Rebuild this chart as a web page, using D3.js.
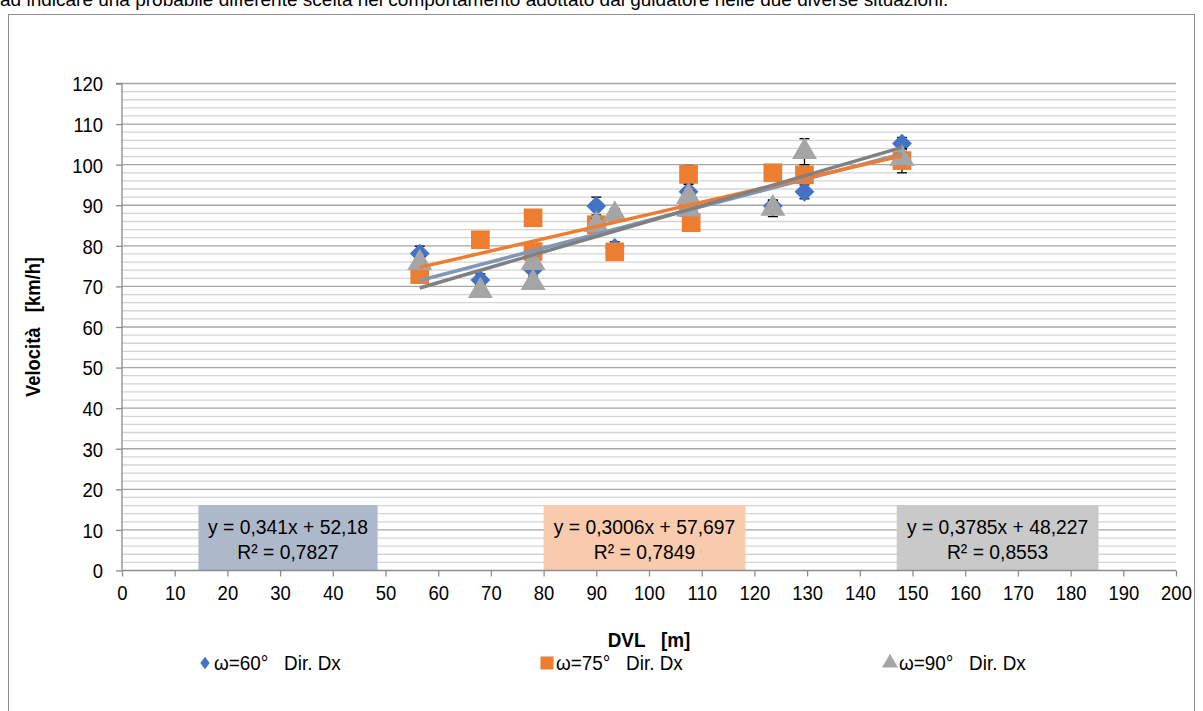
<!DOCTYPE html>
<html><head><meta charset="utf-8">
<script src="https://cdn.jsdelivr.net/npm/d3@7"></script>
<style>
html,body{margin:0;padding:0;background:#fff;}
svg{display:block;}
text{font-family:"Liberation Sans",Arial,sans-serif;white-space:pre;}
</style></head>
<body>
<svg id="c" width="1203" height="711"></svg>
<script>
const introText = "ad indicare una probabile differente scelta nel comportamento adottato dal guidatore nelle due diverse situazioni.";
const xTicks = [0,10,20,30,40,50,60,70,80,90,100,110,120,130,140,150,160,170,180,190,200];
const yTicks = [0,10,20,30,40,50,60,70,80,90,100,110,120];
const seriesNames = ["ω=60°   Dir. Dx","ω=75°   Dir. Dx","ω=90°   Dir. Dx"];
const seriesColors = ["#4472C4","#ED7D31","#A5A5A5"];
const trendColors = ["#8197B8","#ED7D31","#808080"];
const boxColors = ["#ADB9CA","#F8CBAD","#C9C9C9"];

const x60 = [56.5, 68, 78, 90, 93.5, 107.5, 123.5, 129.5, 148];
const y60 = [78.1, 71.6, 74.1, 89.8, 79.5, 93.3, 89.8, 93.3, 105.2];
const e60 = [1.8, 1.5, 1.6, 2.2, 1.5, 1.8, 1.5, 1.7, 1.5];

const x75 = [56.5, 68, 78, 78, 90, 93.5, 107.5, 107.5, 108, 123.5, 129.5, 148];
const y75 = [72.9, 81.5, 86.9, 78.6, 85.2, 78.5, 97.6, 89.4, 85.7, 98, 97.5, 101];
const e75 = [1.5, 1.5, 1.5, 1.5, 1.5, 1.5, 2.2, 1.5, 1.5, 1.5, 1.5, 3.0];

const x90 = [56.5, 68, 78, 78, 90, 93.5, 107.5, 107.5, 123.5, 129.5, 148];
const y90 = [75.8, 68.9, 75.8, 70.9, 85.2, 87.7, 92.1, 89, 89.2, 103.2, 101.5];
const e90 = [1.5, 1.5, 1.5, 1.5, 1.5, 1.5, 1.5, 1.5, 2.0, 3.2, 1.5];

const slopes = [0.341, 0.3006, 0.3785];
const intercepts = [52.18, 57.697, 48.227];
const eqLabels = ["y = 0,341x + 52,18","y = 0,3006x + 57,697","y = 0,3785x + 48,227"];
const r2Labels = ["R² = 0,7827","R² = 0,7849","R² = 0,8553"];
const eqBoxX = [14.5, 80, 147];   // box left edges in data units
const eqBoxW = [34, 38.3, 38.3];

const xLabel = "DVL   [m]";
const yLabel = "Velocità   [km/h]";

const series = [
  {x:x60,y:y60,e:e60},
  {x:x75,y:y75,e:e75},
  {x:x90,y:y90,e:e90}
];

const SX = 0.88; // horizontal condensing to mimic a narrow face
const svg = d3.select("#c");
const X = d3.scaleLinear().domain([0,200]).range([122,1176]);
const Y = d3.scaleLinear().domain([0,120]).range([570.5,83.5]);

function narrowText(parent, x, y, str, size, anchor, sx){
  const g = parent.append("g").attr("transform",`translate(${x},${y}) scale(${sx||SX},1)`);
  return g.append("text").attr("x",0).attr("y",0).attr("font-size",size)
    .attr("text-anchor",anchor||"start").attr("fill","#000").text(str);
}

// intro text (cropped at the top, as in the source page)
svg.append("text").attr("x",0).attr("y",6).attr("font-size",19).attr("fill","#000").text(introText);

// outer chart border
svg.append("rect").attr("x",8.5).attr("y",14.5).attr("width",1186).attr("height",720)
  .attr("fill","none").attr("stroke","#8c8c8c").attr("stroke-width",1);

// minor gridlines
const minor = d3.range(2,120,2).filter(v=>v%10!==0);
svg.append("g").selectAll("line").data(minor).join("line")
  .attr("x1",X(0)).attr("x2",X(200)).attr("y1",d=>Y(d)).attr("y2",d=>Y(d))
  .attr("stroke","#d4d4d4").attr("stroke-width",1.3);
// major gridlines
svg.append("g").selectAll("line").data(yTicks.filter(v=>v>0)).join("line")
  .attr("x1",X(0)).attr("x2",X(200)).attr("y1",d=>Y(d)).attr("y2",d=>Y(d))
  .attr("stroke","#a6a6a6").attr("stroke-width",1.3);

// equation boxes
eqLabels.forEach((t,i)=>{
  const bx = X(eqBoxX[i]), bw = X(eqBoxX[i]+eqBoxW[i]) - bx;
  const g = svg.append("g");
  g.append("rect").attr("x",bx).attr("y",505).attr("width",bw).attr("height",65).attr("fill",boxColors[i]);
  narrowText(g, bx+bw/2, 534, t, 21, "middle", 0.92);
  narrowText(g, bx+bw/2, 559, r2Labels[i], 21, "middle", 0.92);
});

// axes
const yAxis = d3.axisLeft(Y).tickValues(yTicks).tickSize(6).tickPadding(13).tickFormat(d3.format("d"));
const gy = svg.append("g").attr("transform",`translate(${X(0)},0)`).call(yAxis);
gy.select(".domain").attr("stroke","#8c8c8c").attr("stroke-width",1.3).attr("d",`M-6,${Y(120)}H0V${Y(0)}`);
gy.selectAll(".tick line").attr("stroke","#8c8c8c").attr("stroke-width",1.3);
gy.selectAll(".tick text").attr("font-size",21).attr("fill","#000").attr("dy","0.35em")
  .attr("x",-19/SX).attr("transform",`scale(${SX},1)`);

const xAxis = d3.axisBottom(X).tickValues(xTicks).tickSize(6).tickPadding(9).tickFormat(d3.format("d"));
const gx = svg.append("g").attr("transform",`translate(0,${Y(0)})`).call(xAxis);
gx.select(".domain").attr("stroke","#8c8c8c").attr("stroke-width",1.3).attr("d",`M${X(0)},0H${X(200)}`);
gx.selectAll(".tick line").attr("stroke","#8c8c8c").attr("stroke-width",1.3);
gx.selectAll(".tick text").attr("font-size",21).attr("fill","#000").attr("transform",`scale(${SX},1)`);

// axis titles
svg.append("text").attr("transform",`translate(40,${(Y(0)+Y(120))/2}) rotate(-90) scale(0.92,1)`)
  .attr("text-anchor","middle").attr("font-size",20).attr("font-weight","bold").text(yLabel);
narrowText(svg, X(100), 647, xLabel, 21, "middle", 0.9).attr("font-weight","bold");

// marker paths
const sym = [
  d3.symbol().type(d3.symbolDiamond2).size(250)(),
  d3.symbol().type(d3.symbolSquare).size(350)(),
  d3.symbol().type(d3.symbolTriangle).size(270)()
];

series.forEach((s,i)=>{
  const pts = s.x.map((xv,j)=>({x:xv,y:s.y[j],e:s.e[j]}));
  const g = svg.append("g");
  // error bars (behind markers)
  const eb = g.append("g").attr("stroke","#000").attr("stroke-width",1.3);
  eb.selectAll("line.v").data(pts).join("line").attr("class","v")
    .attr("x1",d=>X(d.x)).attr("x2",d=>X(d.x)).attr("y1",d=>Y(d.y-d.e)).attr("y2",d=>Y(d.y+d.e));
  eb.selectAll("line.t").data(pts).join("line").attr("class","t")
    .attr("x1",d=>X(d.x)-5).attr("x2",d=>X(d.x)+5).attr("y1",d=>Y(d.y+d.e)).attr("y2",d=>Y(d.y+d.e));
  eb.selectAll("line.b").data(pts).join("line").attr("class","b")
    .attr("x1",d=>X(d.x)-5).attr("x2",d=>X(d.x)+5).attr("y1",d=>Y(d.y-d.e)).attr("y2",d=>Y(d.y-d.e));
  g.selectAll("path").data(pts).join("path")
    .attr("d",sym[i]).attr("fill",seriesColors[i])
    .attr("transform",d=>`translate(${X(d.x)},${Y(d.y)})`);
});

// trendlines
series.forEach((s,i)=>{
  const x0 = d3.min(s.x), x1 = d3.max(s.x);
  svg.append("line")
    .attr("x1",X(x0)).attr("y1",Y(slopes[i]*x0+intercepts[i]))
    .attr("x2",X(x1)).attr("y2",Y(slopes[i]*x1+intercepts[i]))
    .attr("stroke",trendColors[i]).attr("stroke-width",3.5);
});

// legend
const legX = [205, 547, 890];
seriesNames.forEach((n,i)=>{
  const g = svg.append("g").attr("transform",`translate(${legX[i]},663)`);
  const sz = [70,170,110][i];
  const ty = [d3.symbolDiamond2,d3.symbolSquare,d3.symbolTriangle][i];
  g.append("path").attr("d",d3.symbol().type(ty).size(sz)()).attr("fill",seriesColors[i])
    .attr("transform", i===0?"scale(0.9,1.2)":"");
  narrowText(g, 9, 0, n, 21, "start", 0.9).attr("dy","0.35em");
});
</script>
</body></html>
